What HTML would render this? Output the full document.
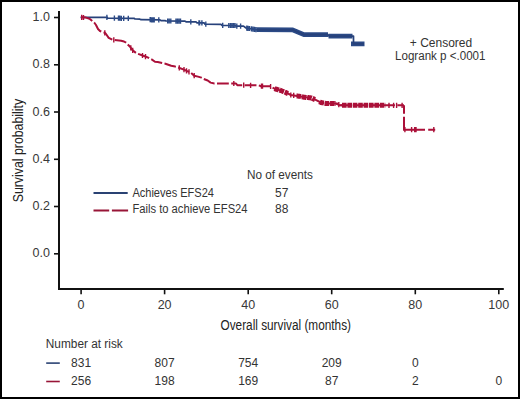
<!DOCTYPE html>
<html><head><meta charset="utf-8"><style>
html,body{margin:0;padding:0;background:#fff;}
.frame{position:relative;width:516px;height:395px;border:2px solid #000;background:#fff;overflow:hidden}
svg{position:absolute;left:-2px;top:-2px}
text{font-family:"Liberation Sans",sans-serif;fill:#333}
.tk{font-size:12.5px;fill:#383838}
.ax{font-size:14px;fill:#222}
.lg{font-size:12px}
</style></head><body><div class="frame">
<svg width="520" height="399" viewBox="0 0 520 399">
<path d="M59 11 V289 H503.8" fill="none" stroke="#111" stroke-width="2"/>
<path d="M54 253.8 H59" stroke="#111" stroke-width="1.6"/>
<text x="50" y="257.3" text-anchor="end" class="tk">0.0</text>
<path d="M54 206.5 H59" stroke="#111" stroke-width="1.6"/>
<text x="50" y="210.0" text-anchor="end" class="tk">0.2</text>
<path d="M54 159.3 H59" stroke="#111" stroke-width="1.6"/>
<text x="50" y="162.8" text-anchor="end" class="tk">0.4</text>
<path d="M54 112.0 H59" stroke="#111" stroke-width="1.6"/>
<text x="50" y="115.5" text-anchor="end" class="tk">0.6</text>
<path d="M54 64.8 H59" stroke="#111" stroke-width="1.6"/>
<text x="50" y="68.3" text-anchor="end" class="tk">0.8</text>
<path d="M54 17.5 H59" stroke="#111" stroke-width="1.6"/>
<text x="50" y="21.0" text-anchor="end" class="tk">1.0</text>
<path d="M81.1 290 V294.3" stroke="#111" stroke-width="1.6"/>
<text x="81.1" y="309" text-anchor="middle" class="tk">0</text>
<path d="M164.6 290 V294.3" stroke="#111" stroke-width="1.6"/>
<text x="164.6" y="309" text-anchor="middle" class="tk">20</text>
<path d="M248.2 290 V294.3" stroke="#111" stroke-width="1.6"/>
<text x="248.2" y="309" text-anchor="middle" class="tk">40</text>
<path d="M331.7 290 V294.3" stroke="#111" stroke-width="1.6"/>
<text x="331.7" y="309" text-anchor="middle" class="tk">60</text>
<path d="M415.3 290 V294.3" stroke="#111" stroke-width="1.6"/>
<text x="415.3" y="309" text-anchor="middle" class="tk">80</text>
<path d="M498.8 290 V294.3" stroke="#111" stroke-width="1.6"/>
<text x="498.8" y="309" text-anchor="middle" class="tk">100</text>
<text transform="translate(23.4,150.6) rotate(-90)" text-anchor="middle" class="ax" textLength="103.5" lengthAdjust="spacingAndGlyphs">Survival probability</text>
<text x="220.5" y="329.6" class="ax" textLength="130.5" lengthAdjust="spacingAndGlyphs">Overall survival (months)</text>
<text x="441" y="46.5" text-anchor="middle" class="lg">+ Censored</text>
<text x="395" y="60.3" class="lg" textLength="90.5" lengthAdjust="spacingAndGlyphs">Logrank p &lt;.0001</text>
<text x="246.9" y="179.2" class="lg" textLength="66" lengthAdjust="spacingAndGlyphs">No of events</text>
<path d="M93.5 193 H127.7" stroke="#2a4273" stroke-width="1.8"/>
<path d="M93.5 210.5 H109.2 M111.9 210.5 H128.1" stroke="#981537" stroke-width="1.8"/>
<text x="132.4" y="196.5" class="lg" textLength="81.6" lengthAdjust="spacingAndGlyphs">Achieves EFS24</text>
<text x="132.4" y="213.4" class="lg" textLength="115.2" lengthAdjust="spacingAndGlyphs">Fails to achieve EFS24</text>
<text x="275" y="196.5" class="lg">57</text>
<text x="275" y="213.4" class="lg">88</text>
<text x="45.8" y="348.2" class="lg" textLength="77" lengthAdjust="spacingAndGlyphs">Number at risk</text>
<path d="M46.2 363.1 H59.8" stroke="#2a4273" stroke-width="1.6"/>
<path d="M46.2 381.5 H59.8" stroke="#981537" stroke-width="1.6"/>
<text x="81.1" y="367" text-anchor="middle" class="lg">831</text>
<text x="164.6" y="367" text-anchor="middle" class="lg">807</text>
<text x="248.2" y="367" text-anchor="middle" class="lg">754</text>
<text x="331.7" y="367" text-anchor="middle" class="lg">209</text>
<text x="415.3" y="367" text-anchor="middle" class="lg">0</text>
<text x="81.1" y="385.2" text-anchor="middle" class="lg">256</text>
<text x="164.6" y="385.2" text-anchor="middle" class="lg">198</text>
<text x="248.2" y="385.2" text-anchor="middle" class="lg">169</text>
<text x="331.7" y="385.2" text-anchor="middle" class="lg">87</text>
<text x="415.3" y="385.2" text-anchor="middle" class="lg">2</text>
<text x="498.8" y="385.2" text-anchor="middle" class="lg">0</text>
<path d="M274.5 88.6 L275.0 88.8 L275.5 89.0 L276.0 89.1 L276.5 89.3 L277.0 89.4 L277.5 89.6 L278.0 89.7 L278.5 89.8 L279.0 90.0 L279.5 90.1 L280.0 90.3 L280.5 90.4 L281.0 90.6 L281.5 90.8 L282.0 91.0 L282.5 91.2 L283.0 91.4 L283.5 91.6 L284.0 91.8 L284.5 92.0 L285.0 92.2 L285.5 92.4 L286.0 92.6 L286.5 92.9 L287.0 93.1 L287.5 93.4 L288.0 93.6 M296.5 95.9 L297.0 95.9 L297.5 96.0 L298.0 96.1 L298.5 96.2 L299.0 96.2 L299.5 96.3 L300.0 96.4 L300.5 96.5 L301.0 96.6 L301.5 96.7 L302.0 96.8 L302.5 96.9 L303.0 97.0 L303.5 97.1 L304.0 97.2 L304.5 97.3 L305.0 97.3 L305.5 97.4 L306.0 97.4 L306.5 97.5 L307.0 97.5 L307.5 97.6 L308.0 97.6 L308.5 97.6 L309.0 97.7 L309.5 97.7 L310.0 97.8 L310.5 97.8 L311.0 97.9 L311.5 97.9 L312.0 98.1 L312.5 98.4 L313.0 98.6 L313.5 98.9 L314.0 99.1 L314.5 99.4 L315.0 99.6 M319.5 101.8 L320.0 102.1 L320.5 102.3 L321.0 102.5 L321.5 102.6 L322.0 102.7 L322.5 102.8 L323.0 102.9 L323.5 103.0 L324.0 103.1 L324.5 103.2 L325.0 103.3 L325.5 103.4 L326.0 103.4 L326.5 103.4 L327.0 103.4 L327.5 103.4 L328.0 103.4 L328.5 103.5 L329.0 103.5 L329.5 103.5 L330.0 103.5 L330.5 103.5 L331.0 103.5 L331.5 103.5 L332.0 103.5 L332.5 103.5 L333.0 103.5 L333.5 103.5 L334.0 103.5 L334.5 103.6 L335.0 103.6 L335.5 103.6 L336.0 103.6 M342.0 105.3 L342.5 105.3 L343.0 105.3 L343.5 105.3 L344.0 105.3 L344.5 105.3 L345.0 105.3 L345.5 105.3 L346.0 105.3 L346.5 105.3 L347.0 105.3 L347.5 105.3 L348.0 105.3 L348.5 105.3 L349.0 105.3 L349.5 105.3 L350.0 105.3 L350.5 105.3 L351.0 105.3 L351.5 105.3 L352.0 105.3 L352.5 105.3 L353.0 105.3 L353.5 105.3 L354.0 105.3 L354.5 105.3 L355.0 105.3 L355.5 105.3 L356.0 105.3 L356.5 105.3 L357.0 105.3 L357.5 105.3 L358.0 105.3 L358.5 105.3 L359.0 105.3 L359.5 105.3 L360.0 105.3 L360.5 105.3 L361.0 105.3 L361.5 105.3 L362.0 105.3 L362.5 105.3 L363.0 105.3 L363.5 105.3 L364.0 105.3 L364.5 105.3 L365.0 105.3 L365.5 105.3 L366.0 105.3 L366.5 105.3 L367.0 105.3 L367.5 105.3 L368.0 105.3 L368.5 105.3 L369.0 105.3 L369.5 105.3 L370.0 105.3 L370.5 105.3 L371.0 105.3 L371.5 105.3 L372.0 105.3 L372.5 105.3 L373.0 105.3 L373.5 105.3 L374.0 105.3 L374.5 105.3 L375.0 105.3 L375.5 105.3 L376.0 105.3 L376.5 105.3 L377.0 105.3 L377.5 105.3 L378.0 105.3 L378.5 105.3 L379.0 105.3 L379.5 105.3 L380.0 105.3 L380.5 105.3 L381.0 105.3 L381.5 105.3 L382.0 105.3 L382.5 105.3 L383.0 105.3 L383.5 105.3 L384.0 105.3 L384.5 105.3 L385.0 105.3 L385.5 105.3 " fill="none" stroke="#ab1039" stroke-width="5" stroke-dasharray="4.6 0.8"/>
<path d="M336 103.6 L339.9 105.3 L343 105.3" fill="none" stroke="#ab1039" stroke-width="2"/>
<path d="M256.5 29.6 L292.5 29.8 L304 34.6 L328 34.7 M328.5 36.1 L352.5 36.1 M351 43.8 L364.5 43.8" fill="none" stroke="#2b4a86" stroke-width="4.8"/>
<path d="M80.5 17.4 L107.3 17.4 L107.5 18.2 L134.0 18.3 L135.0 19.0 L140.0 19.2 L141.0 19.7 L160.0 19.8 L161.0 20.6 L165.0 20.6 L166.0 21.0 L185.0 21.1 L186.0 21.8 L196.0 21.9 L197.0 22.8 L204.0 22.8 L205.0 24.2 L221.0 24.3 L222.0 25.4 L235.0 25.5 L236.0 26.1 L243.5 26.1 L246.0 28.0 L250.0 28.6 L256.0 29.6 L292.5 29.8 L304.0 34.6 L328.0 34.7 L329.0 36.1 L353.5 36.1 L353.5 43.8 L364.0 43.8" fill="none" stroke="#27417a" stroke-width="1.7" stroke-linejoin="round"/>
<path d="M80.5 17.3 L86.0 17.6 L89.5 18.8 L92.0 20.8 L94.2 22.5 L96.0 25.0 L98.0 29.0 L100.0 31.0 L104.8 32.8 L106.0 34.0 L108.7 37.9 L112.5 39.8 L121.2 40.8 L124.0 41.5 L126.0 42.7 L129.8 46.5 L132.7 50.4 L136.5 53.3 L143.3 55.8 L147.1 57.1 L152.0 59.6 L155.0 61.8 L157.7 62.1 L165.4 63.8 L171.2 65.8 L175.2 66.6 L178.0 67.4 L184.6 69.9 L187.5 71.3 L190.4 72.3 L194.2 75.7 L198.0 76.6 L201.4 77.6 L203.8 79.0 L207.7 80.5 L210.6 82.6 L214.4 83.5 L236.0 83.5 L237.3 85.2 L258.7 85.3 L261.0 86.2 L270.0 86.2 L274.6 88.7 L280.4 90.4 L286.2 92.7 L290.8 95.0 L298.8 96.2 L304.6 97.3 L311.5 97.9 L316.2 100.2 L320.8 102.5 L325.4 103.4 L337.3 103.6 L339.9 105.3 L404.0 105.3" fill="none" stroke="#ab1039" stroke-width="2" stroke-dasharray="11.84 2.4" stroke-dashoffset="-0.86" stroke-linejoin="round"/>
<path d="M404 105.3 V113.8 M404 116.8 V129.7 H425 M428.2 129.7 H435.2" fill="none" stroke="#ab1039" stroke-width="2"/>
<path d="M106.9 14.8 v5.2 M114.4 15.6 v5.2 M118.5 15.6 v5.2 M119.8 15.6 v5.2 M121.3 15.7 v5.2 M123.7 15.7 v5.2 M128.3 15.7 v5.2 M150.2 17.1 v5.2 M151.5 17.2 v5.2 M152.8 17.2 v5.2 M154.2 17.2 v5.2 M158.8 17.2 v5.2 M167.7 18.4 v5.2 M169.2 18.4 v5.2 M170.8 18.4 v5.2 M176.0 18.5 v5.2 M177.5 18.5 v5.2 M179.0 18.5 v5.2 M180.5 18.5 v5.2 M190.8 19.2 v5.2 M199.0 20.2 v5.2 M199.6 20.2 v5.2 M201.9 20.2 v5.2 M205.8 21.6 v5.2 M222.7 22.8 v5.2 M228.8 22.9 v5.2 M230.5 22.9 v5.2 M232.0 22.9 v5.2 M233.5 22.9 v5.2 M235.0 22.9 v5.2 M236.8 23.5 v5.2 M240.6 23.5 v5.2 M246.8 25.5 v5.2 M248.0 25.7 v5.2 M249.5 25.9 v5.2 M251.5 26.2 v5.2 M253.0 26.5 v5.2 M254.5 26.8 v5.2 M256.0 27.0 v5.2" stroke="#2b4a86" stroke-width="1.4"/>
<path d="M81.7 14.8 v5.2 M83.5 14.9 v5.2 M104.8 30.2 v5.2 M113.8 37.3 v5.2 M130.8 45.2 v5.2 M132.7 47.8 v5.2 M142.5 52.9 v5.2 M145.5 54.0 v5.2 M179.3 65.3 v5.2 M184.0 67.1 v5.2 M186.5 68.2 v5.2 M189.0 69.2 v5.2 M194.2 73.1 v5.2 M233.8 80.9 v5.2 M243.7 82.6 v5.2 M250.6 82.7 v5.2 M261.5 83.6 v5.2 M262.5 83.6 v5.2 M270.6 83.9 v5.2 M290.8 92.4 v5.2 M293.7 92.8 v5.2 M338.8 102.0 v5.2 M389.0 102.7 v5.2 M393.6 102.7 v5.2 M396.6 102.7 v5.2 M402.1 102.7 v5.2 M404.9 127.1 v5.2 M411.6 127.1 v5.2 M414.7 127.1 v5.2 M416.0 127.1 v5.2 M433.8 127.1 v5.2" stroke="#ab1039" stroke-width="1.4"/>
</svg></div></body></html>
